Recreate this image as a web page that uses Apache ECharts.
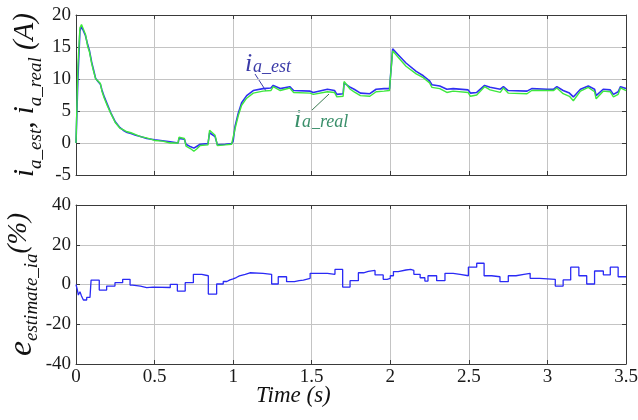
<!DOCTYPE html>
<html><head><meta charset="utf-8">
<script src="https://cdn.jsdelivr.net/npm/echarts@6/dist/echarts.min.js"></script>
<style>html,body{margin:0;padding:0;background:#fff}#c{width:638px;height:420px}</style>
</head><body><div id="c"></div>
<script>
// ---- data ----
const timeTicks = [0, 0.5, 1, 1.5, 2, 2.5, 3, 3.5];
const tTop = [0,0.008,0.012,0.025,0.035,0.045,0.06,0.075,0.085,0.1,0.11,0.125,0.14,0.155,0.165,0.18,0.2,0.22,0.25,0.28,0.3,0.32,0.35,0.38,0.41,0.45,0.5,0.55,0.6,0.65,0.655,0.69,0.7,0.73,0.75,0.77,0.79,0.84,0.85,0.86,0.885,0.9,0.95,0.99,1.0,1.012,1.033,1.054,1.086,1.128,1.19,1.24,1.255,1.3,1.36,1.385,1.49,1.51,1.6,1.645,1.66,1.7,1.706,1.745,1.77,1.81,1.87,1.91,1.96,1.995,2.0,2.015,2.05,2.1,2.165,2.21,2.25,2.265,2.315,2.36,2.4,2.495,2.51,2.55,2.6,2.635,2.7,2.72,2.75,2.87,2.9,3.0,3.04,3.06,3.1,3.14,3.165,3.21,3.26,3.3,3.31,3.355,3.4,3.42,3.45,3.465,3.5];
const iaEst = [0,0,10,17.5,18.2,18.0,16.8,15.3,14.5,12.6,11.6,10.1,9.6,9.2,8.3,7.2,6.0,4.8,3.3,2.4,2.0,1.7,1.5,1.2,1.0,0.7,0.5,0.35,0.2,0.0,0.7,0.6,-0.2,-0.6,-0.8,-0.5,-0.2,-0.1,1.6,1.8,1.0,-0.3,-0.2,-0.1,0.3,2.6,4.7,6.3,7.4,8.2,8.5,8.6,9.0,8.5,8.8,8.2,8.1,7.9,8.4,8.2,7.6,7.7,9.4,8.7,8.4,7.8,7.7,8.4,8.5,8.5,10,14.7,13.8,12.5,11.2,10.5,9.7,9.1,8.9,8.4,8.5,8.3,7.8,7.9,9.0,8.7,8.4,8.8,8.2,8.1,8.5,8.4,8.4,8.8,8.2,7.8,7.2,8.4,8.9,8.4,7.4,8.4,8.3,7.6,8.0,8.8,8.5];
const iaReal = [0,0,12,18.0,18.5,18.2,17.0,15.0,14.3,12.4,11.4,10.0,9.7,9.3,8.1,7.0,5.8,4.7,3.2,2.3,2.1,1.8,1.6,1.3,1.0,0.8,0.4,0.3,0.0,0.0,0.9,0.7,-0.5,-0.9,-1.3,-0.9,-0.4,-0.3,2.0,1.9,1.2,-0.4,-0.3,-0.2,0.0,2.2,4.3,5.9,7.0,7.8,8.1,8.2,8.8,8.2,8.6,7.9,7.8,7.6,8.0,7.9,7.2,7.3,9.6,8.4,8.0,7.4,7.3,8.0,8.1,8.2,10,14.4,13.4,12.0,10.8,10.2,9.4,8.7,8.5,7.9,8.1,7.9,7.3,7.5,8.8,8.3,7.9,8.6,7.8,7.7,8.2,8.2,8.2,8.6,7.7,7.3,6.6,8.1,8.7,8.0,6.9,8.1,8.0,7.2,7.6,8.6,8.2];
const tErr = [0,0.008,0.015,0.025,0.035,0.047,0.068,0.089,0.096,0.148,0.195,0.248,0.297,0.344,0.36,0.41,0.45,0.49,0.6,0.645,0.695,0.747,0.8,0.842,0.895,0.937,0.96,0.98,1.0,1.02,1.04,1.077,1.107,1.19,1.245,1.287,1.34,1.39,1.42,1.447,1.455,1.49,1.6,1.648,1.697,1.744,1.797,1.83,1.86,1.903,1.955,1.98,2.0,2.02,2.05,2.1,2.13,2.15,2.19,2.22,2.24,2.295,2.348,2.4,2.444,2.497,2.55,2.597,2.645,2.698,2.751,2.8,2.85,2.89,2.95,3.05,3.1,3.148,3.2,3.25,3.3,3.356,3.4,3.45,3.5];
const eErr = [0,-2.5,-5.3,-3.6,-5.8,-7.8,-6.5,-6.2,2.2,-2.8,-0.8,0.9,2.6,-0.3,-0.8,-1.6,-1.3,-1.5,0.1,-3.3,0.9,5.1,4.4,-4.8,0.25,1.5,2.3,2.8,3.5,4.3,5.1,5.9,5.6,5.1,0.25,3.9,1.4,1.9,2.2,2.6,3.1,5.6,5.1,7.6,-1.3,1.9,5.9,6.6,7.1,4.8,2.6,3.1,4.4,6.5,7.3,7.6,7.1,5.1,3.4,1.7,4.4,1.9,5.6,5.1,4.4,8.7,10.7,4.4,3.9,1.4,4.4,5.1,5.6,3.1,2.6,-0.8,2.3,8.7,4.4,0.25,6.8,4.8,8.7,3.9,3.9];
const topTicks = [-5, 0, 5, 10, 15, 20];
const botTicks = [-40, -20, 0, 20, 40];

const pair = (xs, ys) => xs.map((x, i) => [x, ys[i]]);
const serif = 'Liberation Serif';
const gridLine = {show: true, lineStyle: {color: '#c4c4c4', width: 1}};
const axLine = {show: true, onZero: false, lineStyle: {color: '#3a3a3a', width: 1}};
const tick = {show: true, inside: true, length: 4, lineStyle: {color: '#3a3a3a'}};
const labRich = {n: {fontFamily: serif, fontSize: 19, fontStyle: 'normal', color: '#1a1a1a'}};
const fmt = v => '{n|' + String(v) + '}';

function xAx(gi, showLabel, pos) {
  return {type: 'value', gridIndex: gi, min: 0, max: 3.5, interval: 0.5, position: pos,
    axisLine: axLine, axisTick: tick, splitLine: pos === 'bottom' ? gridLine : {show: false},
    axisLabel: {show: showLabel, fontFamily: serif, fontSize: 19, margin: 4, formatter: fmt, rich: labRich}};
}
function yAx(gi, mn, mx, iv, pos, name, rich, gap) {
  const o = {type: 'value', gridIndex: gi, min: mn, max: mx, interval: iv, position: pos,
    axisLine: axLine, axisTick: tick, splitLine: pos === 'left' ? gridLine : {show: false},
    axisLabel: {show: pos === 'left', fontFamily: serif, fontSize: 19, margin: 5, formatter: fmt, rich: labRich}};
  if (name) { o.name = name; o.nameLocation = 'middle'; o.nameRotate = 90; o.nameGap = gap; o.nameMoveOverlap = false; o.nameTextStyle = {rich: rich}; }
  return o;
}
const richTop = {
  b: {fontFamily: serif, fontStyle: 'italic', fontSize: 29, lineHeight: 34, verticalAlign: 'top', color: '#111'},
  s: {fontFamily: serif, fontStyle: 'italic', fontSize: 19, lineHeight: 20, verticalAlign: 'bottom', color: '#111'}
};
const richBot = {
  b: {fontFamily: serif, fontStyle: 'italic', fontSize: 34, lineHeight: 36, verticalAlign: 'top', color: '#111'},
  p: {fontFamily: serif, fontStyle: 'italic', fontSize: 27, lineHeight: 36, verticalAlign: 'top', color: '#111'},
  s: {fontFamily: serif, fontStyle: 'italic', fontSize: 19, lineHeight: 20, verticalAlign: 'bottom', color: '#111'}
};

const chart = echarts.init(document.getElementById('c'), null, {renderer: 'canvas'});
chart.setOption({
  animation: false,
  backgroundColor: '#ffffff',
  textStyle: {fontFamily: serif},
  grid: [
    {left: 76, top: 15, width: 550, height: 160, containLabel: false, outerBoundsMode: 'none'},
    {left: 76, top: 205, width: 550, height: 159, containLabel: false, outerBoundsMode: 'none'}
  ],
  xAxis: [xAx(0, false, 'bottom'), xAx(1, true, 'bottom'), xAx(0, false, 'top'), xAx(1, false, 'top')],
  yAxis: [
    yAx(0, -5, 20, 5, 'left', '{b|i}{s|a_est}{b|, i}{s|a_real}{b| (A)}', richTop, 31),
    yAx(1, -40, 40, 20, 'left', '{b|e}{s|estimate_ia}{p|(%)}', richBot, 35),
    yAx(0, -5, 20, 5, 'right'),
    yAx(1, -40, 40, 20, 'right')
  ],
  series: [
    {type: 'line', xAxisIndex: 0, yAxisIndex: 0, data: pair(tTop, iaEst), showSymbol: false,
      lineStyle: {color: '#2f2ff2', width: 1.6}},
    {type: 'line', xAxisIndex: 0, yAxisIndex: 0, data: pair(tTop, iaReal), showSymbol: false,
      lineStyle: {color: '#3ee83e', width: 1.4}},
    {type: 'line', xAxisIndex: 1, yAxisIndex: 1, data: pair(tErr, eErr), showSymbol: false, step: 'end',
      lineStyle: {color: '#2a2af5', width: 1.3}}
  ],
  graphic: [
    {type: 'text', left: 245, top: 51, style: {text: 'i', font: 'italic 26px ' + serif, fill: '#3b3ba8'}},
    {type: 'text', left: 253, top: 58, style: {text: 'a_est', font: 'italic 18px ' + serif, fill: '#3b3ba8'}},
    {type: 'line', shape: {x1: 255, y1: 74, x2: 266, y2: 91}, style: {stroke: '#3b3ba8', lineWidth: 1}},
    {type: 'text', left: 294, top: 107, style: {text: 'i', font: 'italic 26px ' + serif, fill: '#3a8f6a'}},
    {type: 'text', left: 302, top: 113, style: {text: 'a_real', font: 'italic 18px ' + serif, fill: '#3a8f6a'}},
    {type: 'line', shape: {x1: 311, y1: 111, x2: 329, y2: 94}, style: {stroke: '#3a7a50', lineWidth: 1}},
    {type: 'text', left: 256, top: 384, style: {text: 'Time (s)', font: 'italic 23px ' + serif, fill: '#111'}}
  ]
});
</script></body></html>
